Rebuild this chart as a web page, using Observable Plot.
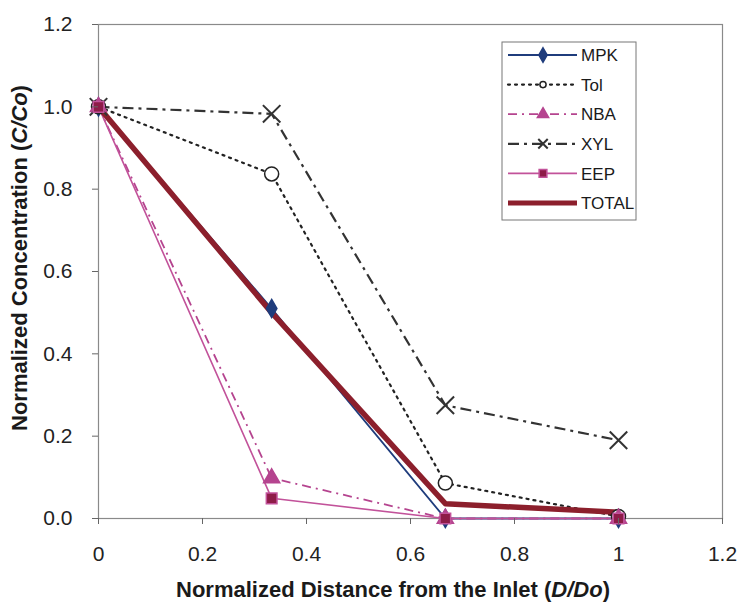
<!DOCTYPE html>
<html>
<head>
<meta charset="utf-8">
<script src="https://cdn.jsdelivr.net/npm/d3@7"></script>
<script src="https://cdn.jsdelivr.net/npm/@observablehq/plot@0.6"></script>
<style>
  html, body { margin: 0; padding: 0; background: #fff; }
  #chart { position: relative; width: 739px; height: 603px; }
</style>
</head>
<body>
<div id="chart"></div>
<script>
// ---- data ----
const distance = [0, 0.333, 0.667, 1];
const mpk   = [1.0, 0.51, 0.0, 0.0];
const tol   = [1.0, 0.837, 0.086, 0.005];
const nba   = [1.0, 0.098, 0.0, 0.0];
const xyl   = [1.0, 0.983, 0.275, 0.19];
const eep   = [1.0, 0.049, 0.0, 0.0];
const total = [1.0, 0.5, 0.036, 0.015];

const seriesNames = ["MPK", "Tol", "NBA", "XYL", "EEP", "TOTAL"];
const xTicks = [0, 0.2, 0.4, 0.6, 0.8, 1, 1.2];
const xTickLabels = ["0", "0.2", "0.4", "0.6", "0.8", "1", "1.2"];
const yTicks = [0, 0.2, 0.4, 0.6, 0.8, 1.0, 1.2];
const yTickLabels = ["0.0", "0.2", "0.4", "0.6", "0.8", "1.0", "1.2"];

// ---- styles ----
const FONT = "'Liberation Sans', Arial, sans-serif";
const styles = {
  MPK:   {stroke: "#1f3c7c", width: 1.8, dash: null, symbol: "diamond", r: 5.5, fill: "#1f3c7c", mstroke: "#1f3c7c"},
  Tol:   {stroke: "#222",    width: 2.2, dash: "2,5", cap: "round", symbol: "circle", r: 7, fill: "white", mstroke: "#222"},
  NBA:   {stroke: "#b5448f", width: 1.8, dash: "9,5,2,5", symbol: "triangle", r: 6, fill: "#b5448f", mstroke: "#b5448f"},
  XYL:   {stroke: "#333",    width: 2.2, dash: "11,5,3,5", symbol: "times", r: 8, fill: "none", mstroke: "#333"},
  EEP:   {stroke: "#c2529a", width: 1.6, dash: null, symbol: "square", r: 6, fill: "#8e1c48", mstroke: "#c2529a"},
  TOTAL: {stroke: "#8c1f2c", width: 5.5, dash: null, symbol: null}
};
const values = {MPK: mpk, Tol: tol, NBA: nba, XYL: xyl, EEP: eep, TOTAL: total};

const rows = (name) => distance.map((d, i) => ({x: d, y: values[name][i], s: name}));

const marks = [Plot.frame({stroke: "#8a8a8a", strokeWidth: 1.2})];
for (const name of seriesNames) {
  const st = styles[name];
  marks.push(Plot.line(rows(name), {
    x: "x", y: "y", stroke: st.stroke, strokeWidth: st.width,
    strokeDasharray: st.dash || undefined, strokeLinecap: st.cap || "butt", strokeLinejoin: "round"
  }));
}
for (const name of seriesNames) {
  const st = styles[name];
  if (!st.symbol) continue;
  marks.push(Plot.dot(rows(name), {
    x: "x", y: "y", symbol: () => st.symbol, r: st.r,
    fill: st.fill, stroke: st.mstroke, strokeWidth: name === "XYL" ? 2 : 1.5
  }));
}
marks.push(Plot.axisX(xTicks, {tickSize: 6, tickPadding: 22, tickFormat: (d) => xTickLabels[xTicks.indexOf(d)], stroke: "#666", label: null, fill: "#222"}));
marks.push(Plot.axisY(yTicks, {tickSize: 6, tickPadding: 20, tickFormat: (d) => yTickLabels[yTicks.indexOf(d)], stroke: "#666", label: null, fill: "#222"}));

const svg = Plot.plot({
  width: 739, height: 603,
  marginLeft: 98, marginRight: 17, marginTop: 24, marginBottom: 85,
  x: {domain: [0, 1.2], label: null},
  y: {domain: [0, 1.2], label: null},
  style: {fontFamily: FONT, fontSize: "21px", background: "white", overflow: "visible"},
  marks
});
document.getElementById("chart").appendChild(svg);

// ---- axis titles ----
const s = d3.select(svg);
const xt = s.append("text").attr("x", 393).attr("y", 597).attr("text-anchor", "middle")
  .attr("font-size", 22).attr("font-weight", "bold").attr("fill", "#1a1a1a")
  .attr("font-family", FONT);
xt.append("tspan").text("Normalized Distance from the Inlet (");
xt.append("tspan").attr("font-style", "italic").text("D/Do");
xt.append("tspan").text(")");
const yt = s.append("text").attr("transform", "translate(27,258) rotate(-90)").attr("text-anchor", "middle")
  .attr("font-size", 22).attr("font-weight", "bold").attr("fill", "#1a1a1a")
  .attr("font-family", FONT);
yt.append("tspan").text("Normalized Concentration (");
yt.append("tspan").attr("font-style", "italic").text("C/Co");
yt.append("tspan").text(")");

// ---- legend ----
const lg = s.append("g").attr("transform", "translate(502,42)");
lg.append("rect").attr("width", 134).attr("height", 178).attr("fill", "white").attr("stroke", "#777").attr("stroke-width", 1);
const symMap = {diamond: d3.symbolDiamond, circle: d3.symbolCircle, triangle: d3.symbolTriangle, times: d3.symbolTimes, square: d3.symbolSquare};
seriesNames.forEach((name, i) => {
  const st = styles[name];
  const cy = 13 + i * 29.6;
  lg.append("line").attr("x1", 6).attr("x2", 75).attr("y1", cy).attr("y2", cy)
    .attr("stroke", st.stroke).attr("stroke-width", name === "TOTAL" ? 5 : st.width)
    .attr("stroke-dasharray", st.dash).attr("stroke-linecap", st.cap || "butt");
  if (st.symbol) {
    const size = {diamond: 60, circle: 30, triangle: 55, times: 60, square: 60}[st.symbol];
    lg.append("path").attr("d", d3.symbol(symMap[st.symbol], size)())
      .attr("transform", `translate(41,${cy})`)
      .attr("fill", st.symbol === "times" ? "none" : st.fill).attr("stroke", st.mstroke).attr("stroke-width", st.symbol === "times" ? 2 : 1.5);
  }
  lg.append("text").attr("x", 79).attr("y", cy).attr("dy", "0.36em").attr("text-anchor", "start")
    .attr("font-size", 17).attr("fill", "#1a1a1a")
    .attr("font-family", FONT).text(name);
});
</script>
</body>
</html>
